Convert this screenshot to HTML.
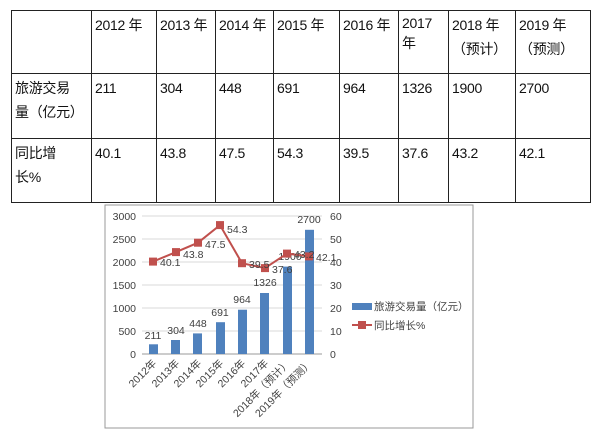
<!DOCTYPE html>
<html><head><meta charset="utf-8"><style>
body{margin:0;background:#fff;width:600px;height:436px;overflow:hidden;font-family:"Liberation Sans","Noto Sans CJK SC",sans-serif;}
table{position:absolute;left:11px;top:10px;border-collapse:collapse;font-size:14px;color:#111;table-layout:fixed;width:579px;}
td{border:1.5px solid #222;vertical-align:top;padding:2px 3px;line-height:24px;white-space:nowrap;overflow:hidden;letter-spacing:-0.3px;}
</style></head><body>
<table>
<colgroup><col style="width:80px"><col style="width:65px"><col style="width:59px"><col style="width:58px"><col style="width:66px"><col style="width:59px"><col style="width:50px"><col style="width:67px"><col style="width:75px"></colgroup>
<tr style="height:63px"><td></td><td>2012 年</td><td>2013 年</td><td>2014 年</td><td>2015 年</td><td>2016 年</td><td style="line-height:20px">2017<br>年</td><td>2018 年<br>（预计）</td><td>2019 年<br>（预测）</td></tr>
<tr style="height:65px"><td>旅游交易<br>量（亿元）</td><td>211</td><td>304</td><td>448</td><td>691</td><td>964</td><td>1326</td><td>1900</td><td>2700</td></tr>
<tr style="height:64px"><td>同比增<br>长%</td><td>40.1</td><td>43.8</td><td>47.5</td><td>54.3</td><td>39.5</td><td>37.6</td><td>43.2</td><td>42.1</td></tr>
</table>
<svg style="position:absolute;left:0;top:0" width="600" height="436" font-family="Liberation Sans, Noto Sans CJK SC, sans-serif" font-size="10.5" fill="#404040">
<rect x="105" y="205" width="368" height="223" fill="#fff" stroke="#999"/>
<g stroke="#d9d9d9">
<line x1="142" x2="322" y1="216" y2="216"/><line x1="142" x2="322" y1="239" y2="239"/><line x1="142" x2="322" y1="262" y2="262"/><line x1="142" x2="322" y1="285" y2="285"/><line x1="142" x2="322" y1="308" y2="308"/><line x1="142" x2="322" y1="331" y2="331"/>
</g>
<line x1="142" x2="322" y1="354" y2="354" stroke="#999"/>
<g text-anchor="end"><text x="136" y="220">3000</text><text x="136" y="243">2500</text><text x="136" y="266">2000</text><text x="136" y="289">1500</text><text x="136" y="312">1000</text><text x="136" y="335">500</text><text x="136" y="358">0</text></g>
<g><text x="330" y="220">60</text><text x="330" y="243">50</text><text x="330" y="266">40</text><text x="330" y="289">30</text><text x="330" y="312">20</text><text x="330" y="335">10</text><text x="330" y="358">0</text></g>
<g fill="#4f81bd">
<rect x="149" y="344.3" width="9" height="9.7"/><rect x="171" y="340" width="9" height="14"/><rect x="193" y="333.4" width="9" height="20.6"/><rect x="216" y="322.2" width="9" height="31.8"/><rect x="238" y="309.7" width="9" height="44.3"/><rect x="260" y="293" width="9" height="61"/><rect x="283" y="266.6" width="9" height="87.4"/><rect x="305" y="229.8" width="9" height="124.2"/>
</g>
<g text-anchor="middle"><text x="153" y="339">211</text><text x="176" y="334">304</text><text x="198" y="327">448</text><text x="220" y="316">691</text><text x="242" y="303">964</text><text x="265" y="286">1326</text><text x="290" y="260">1900</text><text x="309" y="223">2700</text></g>
<polyline fill="none" stroke="#c0504d" stroke-width="2" points="153,261.6 176,252.1 198,242.7 220,225.1 242,263.2 265,268.1 287,253.6 309,256.4"/>
<g fill="#c0504d"><rect x="149" y="257.6" width="8" height="8"/><rect x="172" y="248.1" width="8" height="8"/><rect x="194" y="238.7" width="8" height="8"/><rect x="216" y="221.1" width="8" height="8"/><rect x="238" y="259.2" width="8" height="8"/><rect x="261" y="264.1" width="8" height="8"/><rect x="283" y="249.6" width="8" height="8"/><rect x="305" y="252.4" width="8" height="8"/></g>
<g><text x="160" y="266">40.1</text><text x="183" y="258">43.8</text><text x="205" y="248">47.5</text><text x="227" y="233">54.3</text><text x="249" y="268">39.5</text><text x="272" y="273">37.6</text><text x="294" y="258">43.2</text><text x="316" y="261">42.1</text></g>
<g font-size="10.5" text-anchor="end">
<text transform="translate(157,364) rotate(-45)">2012年</text><text transform="translate(180,364) rotate(-45)">2013年</text><text transform="translate(202,364) rotate(-45)">2014年</text><text transform="translate(224,364) rotate(-45)">2015年</text><text transform="translate(246,364) rotate(-45)">2016年</text><text transform="translate(269,364) rotate(-45)">2017年</text><text transform="translate(291,364) rotate(-45)">2018年（预计）</text><text transform="translate(313,364) rotate(-45)">2019年（预测）</text>
</g>
<rect x="352" y="303" width="20" height="7" fill="#4f81bd"/>
<text x="374" y="310">旅游交易量（亿元）</text>
<line x1="352" x2="372" y1="325" y2="325" stroke="#c0504d" stroke-width="2"/><rect x="358" y="321" width="8" height="8" fill="#c0504d"/>
<text x="374" y="329">同比增长%</text>
</svg>
</body></html>
